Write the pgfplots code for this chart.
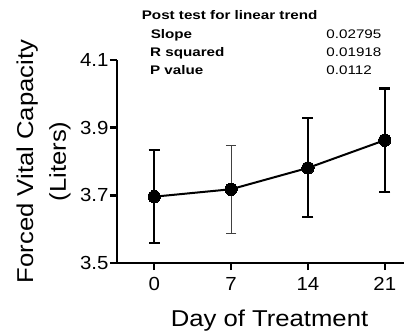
\documentclass[border=0pt]{standalone}
\usepackage{fontspec}
\setmainfont{Liberation Sans}
\newfontfamily\widefont[FakeStretch=1.12]{Liberation Sans}
\newfontfamily\tickfont[FakeStretch=1.08]{Liberation Sans}
\newfontfamily\annfont[FakeStretch=1.22]{Liberation Sans}
\usepackage{pgfplots}
\pgfplotsset{compat=1.18}
\begin{document}
\begin{tikzpicture}
\begin{axis}[
  scale only axis,
  width=287bp, height=203bp,
  xmin=-3.39, xmax=22.75,
  ymin=3.5, ymax=4.1,
  axis x line=bottom, axis y line=left,
  axis line style={-, line width=2.4bp},
  xtick={0,7,14,21},
  ytick={3.5,3.7,3.9,4.1},
  tick align=outside,
  major tick length=7bp,
  tick style={line width=2.4bp, black},
  /pgf/number format/assume math mode=true,
  yticklabel style={/pgf/number format/fixed, /pgf/number format/precision=1, /pgf/number format/fixed zerofill, font=\tickfont\fontsize{19}{21}\selectfont, xshift=2bp},
  xticklabel style={font=\tickfont\fontsize{19}{21}\selectfont, yshift=-4bp},
  ylabel={Forced Vital Capacity\\(Liters)},
  ylabel style={at={(axis description cs:-0.256,0.5)}, anchor=center, align=center, font=\widefont\fontsize{23}{33}\selectfont},
  xlabel={Day of Treatment},
  xlabel style={at={(axis cs:10.5,3.5)}, anchor=base, yshift=-63.7bp, font=\widefont\fontsize{23}{26}\selectfont},
  clip=false,
]
\coordinate (ll) at (rel axis cs:0,0);
% error bars (thick)
\addplot[draw=none, mark=none, black,
  error bars/.cd, y dir=both, y explicit,
  error bar style={line width=2.3bp, black},
  error mark options={rotate=90, mark size=5.5bp, line width=2.3bp, black}]
  coordinates {
    (0,3.696) += (0,0.138) -= (0,0.136)
    (14,3.781) += (0,0.147) -= (0,0.146)
    (21,3.863) += (0,0.153) -= (0,0.154)
  };
% error bar day 7 (thin)
\addplot[draw=none, mark=none, black,
  error bars/.cd, y dir=both, y explicit,
  error bar style={line width=1.1bp, black!75},
  error mark options={rotate=90, mark size=5.3bp, line width=1.1bp, black!75}]
  coordinates {
    (7,3.718) += (0,0.130) -= (0,0.130)
  };
% means
\addplot[black, line width=2bp, mark=*, mark size=6.2bp, mark options={fill=black, line width=0pt}]
  coordinates {(0,3.696) (7,3.718) (14,3.781) (21,3.863)};
% annotation
\node[anchor=base west, inner sep=0pt, font=\annfont\bfseries\fontsize{12.5}{14}\selectfont] at (axis cs:-1.145,4.2183) {Post test for linear trend};
\node[anchor=base west, inner sep=0pt, font=\annfont\bfseries\fontsize{12.5}{14}\selectfont] at (axis cs:-0.33,4.1636) {Slope};
\node[anchor=base west, inner sep=0pt, font=\annfont\bfseries\fontsize{12.5}{14}\selectfont] at (axis cs:-0.39,4.1104) {R squared};
\node[anchor=base west, inner sep=0pt, font=\annfont\bfseries\fontsize{12.5}{14}\selectfont] at (axis cs:-0.39,4.0572) {P value};
\node[anchor=base west, inner sep=0pt, font=\annfont\fontsize{12.5}{14}\selectfont] at (axis cs:15.67,4.1636) {0.02795};
\node[anchor=base west, inner sep=0pt, font=\annfont\fontsize{12.5}{14}\selectfont] at (axis cs:15.67,4.1104) {0.01918};
\node[anchor=base west, inner sep=0pt, font=\annfont\fontsize{12.5}{14}\selectfont] at (axis cs:15.67,4.0572) {0.0112};
\end{axis}
\pgfresetboundingbox
\path[use as bounding box] ([shift={(-117bp,-68bp)}]ll) rectangle ([shift={(287bp,263bp)}]ll);
\end{tikzpicture}
\end{document}
